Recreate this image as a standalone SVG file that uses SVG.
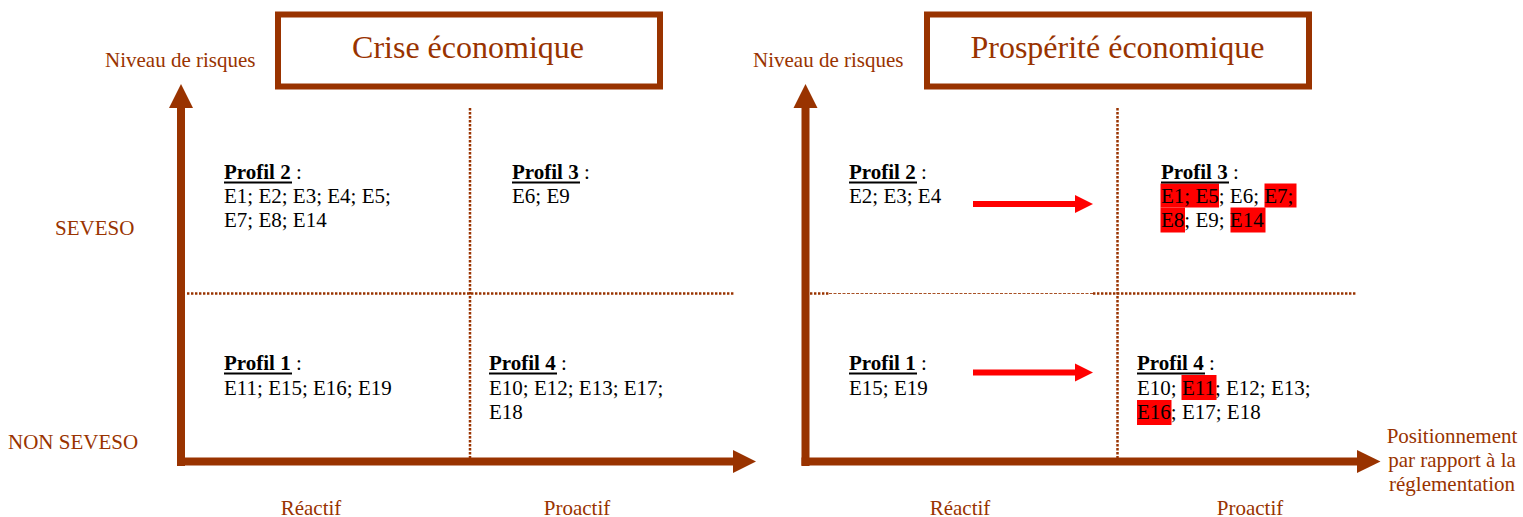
<svg xmlns="http://www.w3.org/2000/svg" width="1523" height="517" viewBox="0 0 1523 517">
<style>
.lbl{font-family:"Liberation Serif","Times New Roman",serif;font-size:21px;fill:#993300}
.ttl{font-family:"Liberation Serif","Times New Roman",serif;font-size:32px;fill:#993300;text-anchor:middle}
.txt{font-family:"Liberation Serif","Times New Roman",serif;font-size:21px;fill:#000}
.b{font-weight:bold}
.box{fill:#fff;stroke:#993300;stroke-width:6}
.ax{stroke:#993300;stroke-width:8;fill:none}
.head{fill:#993300}
.dot{stroke:#993300;stroke-width:2.5;stroke-dasharray:2.4 1.6;fill:none}
.thin{stroke:#993300;stroke-width:1.2;stroke-dasharray:3 1.5;fill:none;opacity:0.85}
.ul{stroke:#000;stroke-width:2}
.hl{fill:#ff0000}
.red{fill:#ff0000}
.mid{text-anchor:middle}
</style>
<rect width="1523" height="517" fill="#fff"/>

<g id="connectors">
  <!-- left chart axes -->
  <line class="ax" x1="181" y1="466" x2="181" y2="106"/>
  <polygon class="head" points="169,108 181,84 193,108"/>
  <line class="ax" x1="177" y1="461.5" x2="735" y2="461.5"/>
  <polygon class="head" points="733,450 756,461.5 733,473"/>
  <line class="dot" x1="470" y1="108" x2="470" y2="458"/>
  <line class="dot" x1="187" y1="293.5" x2="735" y2="293.5"/>
  <!-- right chart axes -->
  <line class="ax" x1="805.5" y1="466" x2="805.5" y2="106"/>
  <polygon class="head" points="793.5,108 805.5,84 817.5,108"/>
  <line class="ax" x1="801.5" y1="461.5" x2="1359" y2="461.5"/>
  <polygon class="head" points="1357,450 1380.5,461.5 1357,473"/>
  <line class="dot" x1="1117.5" y1="108" x2="1117.5" y2="460"/>
  <line class="dot" x1="810" y1="293.5" x2="829" y2="293.5"/>
  <line class="thin" x1="829" y1="293.5" x2="1093" y2="293.5"/>
  <line class="dot" x1="1093" y1="293.5" x2="1357" y2="293.5"/>
  <!-- red arrows -->
  <rect class="red" x="973" y="201" width="103" height="6"/>
  <polygon class="red" points="1075,195 1093,204 1075,213"/>
  <rect class="red" x="973" y="369.5" width="103" height="6"/>
  <polygon class="red" points="1075,363.5 1093,372.5 1075,381.5"/>
</g>

<g id="title-crise">
  <rect class="box" x="278" y="14.5" width="382" height="72"/>
  <text class="ttl" x="468" y="58">Crise économique</text>
</g>
<g id="title-prosperite">
  <rect class="box" x="927" y="14.5" width="382" height="72"/>
  <text class="ttl" x="1117.5" y="58">Prospérité économique</text>
</g>

<g id="label-niveau-left"><text class="lbl" x="105" y="67">Niveau de risques</text></g>
<g id="label-niveau-right"><text class="lbl" x="753" y="67">Niveau de risques</text></g>
<g id="label-seveso"><text class="lbl" x="55" y="235">SEVESO</text></g>
<g id="label-non-seveso"><text class="lbl" x="8" y="449">NON SEVESO</text></g>
<g id="label-reactif-left"><text class="lbl mid" x="311" y="515">Réactif</text></g>
<g id="label-proactif-left"><text class="lbl mid" x="577" y="515">Proactif</text></g>
<g id="label-reactif-right"><text class="lbl mid" x="960" y="515">Réactif</text></g>
<g id="label-proactif-right"><text class="lbl mid" x="1250" y="515">Proactif</text></g>
<g id="label-positionnement">
  <text class="lbl mid" x="1452" y="443">Positionnement</text>
  <text class="lbl mid" x="1452" y="467">par rapport à la</text>
  <text class="lbl mid" x="1452" y="491">réglementation</text>
</g>

<!-- left chart profiles -->
<g id="crise-profil2">
  <text class="txt" x="224" y="179"><tspan class="b">Profil 2</tspan> :</text>
  <line class="ul" x1="224" y1="182.5" x2="292" y2="182.5"/>
  <text class="txt" x="224" y="203">E1; E2; E3; E4; E5;</text>
  <text class="txt" x="224" y="227">E7; E8; E14</text>
</g>
<g id="crise-profil3">
  <text class="txt" x="512" y="179"><tspan class="b">Profil 3</tspan> :</text>
  <line class="ul" x1="512" y1="182.5" x2="580" y2="182.5"/>
  <text class="txt" x="512" y="203">E6; E9</text>
</g>
<g id="crise-profil1">
  <text class="txt" x="224" y="370"><tspan class="b">Profil 1</tspan> :</text>
  <line class="ul" x1="224" y1="373.5" x2="292" y2="373.5"/>
  <text class="txt" x="224" y="394.5">E11; E15; E16; E19</text>
</g>
<g id="crise-profil4">
  <text class="txt" x="489" y="370"><tspan class="b">Profil 4</tspan> :</text>
  <line class="ul" x1="489" y1="373.5" x2="557" y2="373.5"/>
  <text class="txt" x="489" y="394.5">E10; E12; E13; E17;</text>
  <text class="txt" x="489" y="419">E18</text>
</g>

<!-- right chart profiles -->
<g id="prosp-profil2">
  <text class="txt" x="849" y="179"><tspan class="b">Profil 2</tspan> :</text>
  <line class="ul" x1="849" y1="182.5" x2="917" y2="182.5"/>
  <text class="txt" x="849" y="203">E2; E3; E4</text>
</g>
<g id="prosp-profil3">
  <rect class="hl" x="1160.5" y="183.5" width="58.5" height="24"/>
  <rect class="hl" x="1264.5" y="183.5" width="32" height="24"/>
  <rect class="hl" x="1160.5" y="207.5" width="24.5" height="25"/>
  <rect class="hl" x="1230.5" y="207.5" width="35" height="25"/>
  <text class="txt" x="1161" y="179"><tspan class="b">Profil 3</tspan> :</text>
  <line class="ul" x1="1161" y1="182.5" x2="1229" y2="182.5"/>
  <text class="txt" x="1161" y="203">E1; E5; E6; E7;</text>
  <text class="txt" x="1161" y="227">E8; E9; E14</text>
</g>
<g id="prosp-profil1">
  <text class="txt" x="849" y="370"><tspan class="b">Profil 1</tspan> :</text>
  <line class="ul" x1="849" y1="373.5" x2="917" y2="373.5"/>
  <text class="txt" x="849" y="394.5">E15; E19</text>
</g>
<g id="prosp-profil4">
  <rect class="hl" x="1181.5" y="375" width="35" height="25"/>
  <rect class="hl" x="1137" y="400" width="34.5" height="25"/>
  <text class="txt" x="1137" y="370"><tspan class="b">Profil 4</tspan> :</text>
  <line class="ul" x1="1137" y1="373.5" x2="1205" y2="373.5"/>
  <text class="txt" x="1137" y="394.5">E10; E11; E12; E13;</text>
  <text class="txt" x="1137" y="419">E16; E17; E18</text>
</g>
</svg>
